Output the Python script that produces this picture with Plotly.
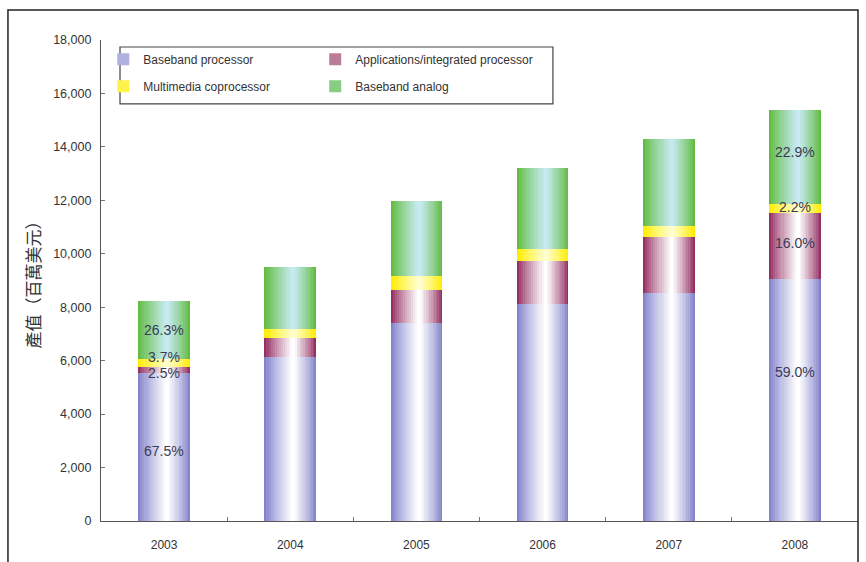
import numpy as np
import plotly.graph_objects as go

# ---------------- data ----------------
years = ["2003", "2004", "2005", "2006", "2007", "2008"]
baseband_processor = [5555, 6140, 7410, 8120, 8545, 9075]
applications_processor = [206, 710, 1235, 1610, 2095, 2460]
multimedia_coprocessor = [305, 340, 525, 450, 410, 340]
baseband_analog = [2164, 2330, 2805, 3020, 3235, 3510]

series_names = ["Baseband processor", "Applications/integrated processor",
                "Multimedia coprocessor", "Baseband analog"]
pct_labels_2003 = ["67.5%", "2.5%", "3.7%", "26.3%"]
pct_labels_2008 = ["59.0%", "16.0%", "2.2%", "22.9%"]
y_ticks = [0, 2000, 4000, 6000, 8000, 10000, 12000, 14000, 16000, 18000]

# ---------------- styling ----------------
edge_colors = [(132, 132, 204), (148, 48, 98), (255, 236, 0), (98, 188, 66)]
center_colors = [(255, 255, 255), (255, 255, 255), (255, 255, 205), (198, 234, 240)]
legend_of = [1, 2, 1, 2]
N_LEVELS = 14
BAR_W = 0.41

values = [baseband_processor, applications_processor, multimedia_coprocessor, baseband_analog]
arr = np.array(values, dtype=float)
bases = np.vstack([np.zeros(arr.shape[1]), np.cumsum(arr, axis=0)[:-1]])

fig = go.Figure()


def lerp(c0, c1, t):
    return "rgb(%d,%d,%d)" % tuple(round(a + (b - a) * t) for a, b in zip(c0, c1))


for s, name in enumerate(series_names):
    for k in range(N_LEVELS):
        frac = k / N_LEVELS
        w = BAR_W * (1 - frac)
        center_shift = 0.06 * BAR_W * frac
        t = (k / (N_LEVELS - 1)) ** 0.85
        fig.add_trace(go.Bar(
            x=years, y=values[s], base=bases[s],
            width=w, offset=-w / 2 + center_shift,
            marker=dict(color=lerp(edge_colors[s], center_colors[s], t), line=dict(width=0)),
            name=name, legendgroup=name,
            showlegend=(k == 4),
            legend="legend" if legend_of[s] == 1 else "legend2",
            hoverinfo="skip",
        ))

# percentage labels (x given as category index)
shifts_2003 = [-4, -3, 6, 0]
shifts_2008 = [28, 3, 1, 5]
for idx, labels, shifts in [(0, pct_labels_2003, shifts_2003), (5, pct_labels_2008, shifts_2008)]:
    for s in range(4):
        mid = float(bases[s][idx] + arr[s][idx] / 2)
        fig.add_annotation(x=idx, y=mid, xref="x", yref="y", text=labels[s], showarrow=False,
                           yshift=shifts[s],
                           font=dict(family="Liberation Sans, Arial", size=14, color="#3a3a55"))

# legend frame and outer frame
fig.add_shape(type="rect", xref="paper", yref="paper",
              x0=0.0251, x1=0.597, y0=0.867, y1=0.9854,
              line=dict(color="#444444", width=1.2), fillcolor="rgba(0,0,0,0)")
fig.add_shape(type="rect", xref="paper", yref="paper",
              x0=-0.1229, x1=1.0, y0=-0.2, y1=1.0624,
              line=dict(color="#222222", width=1.5), fillcolor="rgba(0,0,0,0)")

legend_common = dict(orientation="v", bgcolor="rgba(0,0,0,0)", borderwidth=0,
                     font=dict(family="Liberation Sans, Arial", size=12, color="#333333"),
                     tracegroupgap=8, itemwidth=30, xanchor="left", yanchor="top",
                     traceorder="grouped")

fig.update_layout(
    width=866, height=562,
    margin=dict(l=101, r=8, t=40, b=41),
    paper_bgcolor="white", plot_bgcolor="white",
    barmode="overlay",
    bargap=0,
    legend=dict(x=0.003, y=0.99, **legend_common),
    legend2=dict(x=0.283, y=0.99, **legend_common),
    font=dict(family="Liberation Sans, Arial", color="#333333"),
)
fig.update_xaxes(type="category", showline=True, linecolor="#555555", linewidth=1.2,
                 ticks="inside", tickson="boundaries", ticklen=4, tickcolor="#777777",
                 showgrid=False, tickfont=dict(size=12, color="#333333"),
                 ticklabelstandoff=12,
                 range=[-0.5, 5.5])
fig.update_yaxes(range=[0, 18000], tickvals=y_ticks, tickformat=",",
                 showline=True, linecolor="#555555", linewidth=1.2,
                 ticks="inside", ticklen=4, tickcolor="#777777",
                 showgrid=False, zeroline=False,
                 ticklabelstandoff=6,
                 tickfont=dict(size=12.5, color="#333333"),
                 title=dict(text="產值（百萬美元）", standoff=8,
                            font=dict(family="Noto Sans CJK TC", size=17, color="#333333")))

fig.write_html("out.html")
